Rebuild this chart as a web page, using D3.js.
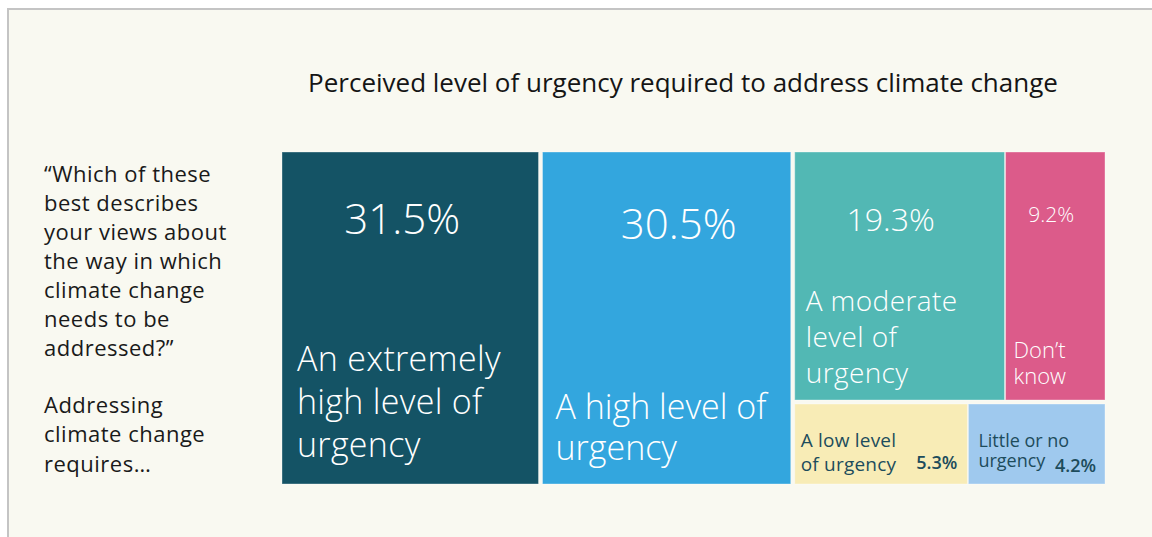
<!DOCTYPE html>
<html>
<head>
<meta charset="utf-8">
<script src="https://cdn.jsdelivr.net/npm/d3@7"></script>
<style>
  html, body { margin: 0; padding: 0; background: #fff; }
  svg { display: block; font-family: "Open Sans", sans-serif; }
</style>
</head>
<body>
<svg id="chart"></svg>
<script>
const width = 1152;
const height = 537;

// data
const categories = ["extreme", "high", "moderate", "dontknow", "low", "little"];
const values = [31.5, 30.5, 19.3, 9.2, 5.3, 4.2];
const pctLabels = ["31.5%", "30.5%", "19.3%", "9.2%", "5.3%", "4.2%"];
const nameLines = [
  ["An extremely", "high level of", "urgency"],
  ["A high level of", "urgency"],
  ["A moderate", "level of", "urgency"],
  ["Don\u2019t", "know"],
  ["A low level", "of urgency"],
  ["Little or no", "urgency"]
];
// how the boxes are grouped: top level, then right column rows
const groups = [["extreme"], ["high"], [["moderate", "dontknow"], ["low", "little"]]];

const title = "Perceived level of urgency required to address climate change";
const question = [
  "\u201CWhich of these", "best describes", "your views about", "the way in which",
  "climate change", "needs to be", "addressed?\u201D"
];
const lead = ["Addressing", "climate change", "requires\u2026"];

// styles per category
const colors = {
  extreme: "#145365", high: "#33a6de", moderate: "#52b8b4",
  dontknow: "#dc5b8a", low: "#f8ecb6", little: "#9fc9ee"
};
const style = {
  extreme:  { pctSize: 42, pctDx: -8, pctY: 82, nameSize: 34, ls: 0.3, nameX: 15, nameY: [-113, -70, -27], fromBottom: true },
  high:     { pctSize: 42, pctDx: 12, pctY: 87, nameSize: 34, ls: 0, nameX: 13, nameY: [-65, -24], fromBottom: true },
  moderate: { pctSize: 32, pctDx: -9, pctY: 79, nameSize: 28, ls: 0.4, nameX: 11, nameY: [-89, -53, -17], fromBottom: true },
  dontknow: { pctSize: 21, pctDx: -4, pctY: 70, nameSize: 22, ls: 0, nameX: 8, nameY: [-42, -16], fromBottom: true },
  low:      { pctSize: 18, pctRight: 10, pctY: 65, nameSize: 19, ls: 0.2, nameX: 6, nameY: [43, 67], fromBottom: false, dark: true },
  little:   { pctSize: 18, pctRight: 9, pctY: 68, nameSize: 18, ls: 0, nameX: 10, nameY: [43, 63], fromBottom: false, dark: true }
};
const darkText = "#1d4c5c";

const svg = d3.select("#chart")
  .attr("width", width)
  .attr("height", height)
  .attr("viewBox", [0, 0, width, height]);

// frame
svg.append("rect")
  .attr("x", 8).attr("y", 9)
  .attr("width", width + 10).attr("height", height + 10)
  .attr("fill", "#f9f9f1")
  .attr("stroke", "#c4c4c4")
  .attr("stroke-width", 2);

svg.append("text")
  .attr("x", 683).attr("y", 92)
  .attr("text-anchor", "middle")
  .attr("fill", "#151515")
  .style("font-size", "26px")
  .text(title);

const side = svg.append("text")
  .attr("fill", "#1a1a1a")
  .style("font-size", "22px")
  .style("letter-spacing", "0.5px");
question.forEach((t, i) => side.append("tspan").attr("x", 44).attr("y", 182 + i * 29).text(t));
lead.forEach((t, i) => side.append("tspan").attr("x", 44).attr("y", 413 + i * 29.3).text(t));

// build hierarchy
const byName = {};
categories.forEach((c, i) => byName[c] = { name: c, value: values[i], pct: pctLabels[i], lines: nameLines[i] });
function build(g) {
  if (typeof g === "string") return byName[g];
  if (g.length === 1 && typeof g[0] === "string") return byName[g[0]];
  return { name: "group", children: g.map(build) };
}
const root = d3.hierarchy(build(groups))
  .sum(d => d.children ? 0 : d.value);

d3.treemap()
  .tile(d3.treemapSliceDice)
  .size([823, 332])
  .paddingInner(d => d.depth === 0 ? 4 : d.depth === 1 ? 4 : 1)
  .round(false)(root);

const g = svg.append("g").attr("transform", "translate(282,152)");

const leaf = g.selectAll("g")
  .data(root.leaves())
  .join("g");

leaf.append("rect")
  .attr("x", d => d.x0)
  .attr("y", d => d.y0)
  .attr("width", d => d.x1 - d.x0)
  .attr("height", d => d.y1 - d.y0)
  .attr("fill", d => colors[d.data.name])
  .attr("stroke", "rgba(255,255,255,0.35)")
  .attr("stroke-width", 1);

// percent labels
leaf.append("text")
  .attr("x", d => {
    const s = style[d.data.name];
    return s.pctRight ? d.x1 - s.pctRight : (d.x0 + d.x1) / 2 + s.pctDx;
  })
  .attr("y", d => d.y0 + style[d.data.name].pctY)
  .attr("text-anchor", d => style[d.data.name].pctRight ? "end" : "middle")
  .attr("fill", d => style[d.data.name].dark ? darkText : "#fff")
  .style("font-size", d => style[d.data.name].pctSize + "px")
  .style("font-weight", d => style[d.data.name].dark ? 600 : 300)
  .text(d => d.data.pct);

// category labels
leaf.each(function(d) {
  const s = style[d.data.name];
  const t = d3.select(this).append("text")
    .attr("fill", s.dark ? darkText : "#fff")
    .style("font-size", s.nameSize + "px")
    .style("font-weight", s.dark ? 400 : 300)
    .style("letter-spacing", s.ls + "px");
  d.data.lines.forEach((line, i) => {
    t.append("tspan")
      .attr("x", d.x0 + s.nameX)
      .attr("y", (s.fromBottom ? d.y1 : d.y0) + s.nameY[i])
      .text(line);
  });
});
</script>
</body>
</html>
